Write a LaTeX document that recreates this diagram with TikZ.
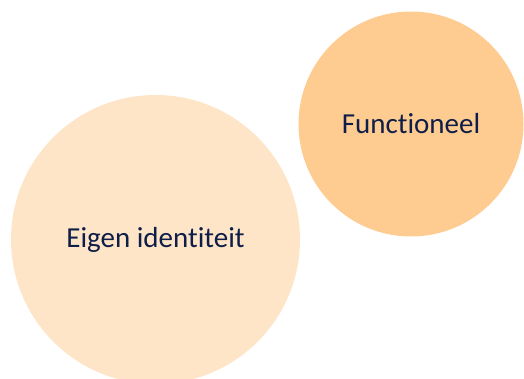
\documentclass[tikz,border=0pt]{standalone}
\usepackage{fontspec}
\setmainfont[Ligatures={NoCommon}]{Carlito}
\usepackage{xcolor}
\usetikzlibrary{positioning}

\definecolor{lightpeach}{HTML}{FEE5C8}
\definecolor{peach}{HTML}{FECC90}
\definecolor{navytext}{HTML}{0F1E48}

\begin{document}
\begin{tikzpicture}[x=1pt,y=-1pt]
            \tikzset{bubble/.style = {circle, inner sep=0pt, text=navytext, font=\fontsize{29}{33}\selectfont}}

            \useasboundingbox (0,0) rectangle (524,379);

            % circles
            \node[bubble, fill=lightpeach, minimum size=289pt] (eigen) at (155.5,239.5) {Eigen identiteit};
            \node[bubble, fill=peach, minimum size=225pt] (functioneel) at (411,124) {Functioneel};

          \end{tikzpicture}
\end{document}
